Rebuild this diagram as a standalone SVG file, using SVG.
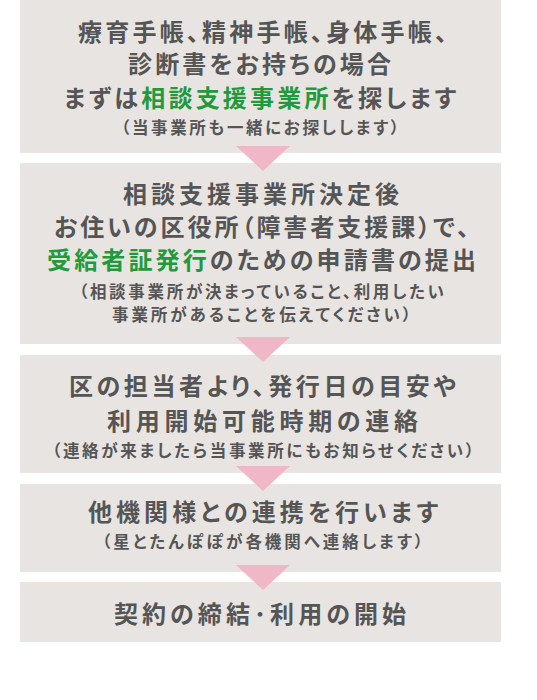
<svg xmlns="http://www.w3.org/2000/svg" width="537" height="700" viewBox="0 0 537 700">
<style>
.box{fill:#e8e4e1}
.arr{fill:#efb7c8}
text{font-family:"Noto Sans CJK JP","Noto Sans",sans-serif;font-weight:700;fill:#555555;text-anchor:middle;font-feature-settings:"palt"}
.m{font-size:24px}
.s{font-size:16.5px}
.g{fill:#1f9a3c}
</style>
<rect width="537" height="700" fill="#ffffff"/>
<g id="step1">
<rect class="box" x="20" y="0" width="481" height="153"/>
<text class="m" x="262.5" y="40.8" textLength="369" lengthAdjust="spacing">療育手帳、精神手帳、身体手帳、</text>
<text class="m" x="259.5" y="73.1" textLength="263" lengthAdjust="spacing">診断書をお持ちの場合</text>
<text class="m" x="260" y="106.6" textLength="392" lengthAdjust="spacing">まずは<tspan class="g">相談支援事業所</tspan>を探します</text>
<text class="s" x="260" y="134" textLength="278" lengthAdjust="spacing">（当事業所も一緒にお探しします）</text>
</g>
<g id="step2">
<rect class="box" x="20" y="163" width="481" height="181"/>
<text class="m" x="261" y="203" textLength="276" lengthAdjust="spacing">相談支援事業所決定後</text>
<text class="m" x="261.5" y="235.6" textLength="415" lengthAdjust="spacing">お住いの区役所（障害者支援課）で、</text>
<text class="m" x="261.5" y="269" textLength="429" lengthAdjust="spacing"><tspan class="g">受給者証発行</tspan>のための申請書の提出</text>
<text class="s" x="261.5" y="297.6" textLength="365" lengthAdjust="spacing">（相談事業所が決まっていること、利用したい</text>
<text class="s" x="261.5" y="321" textLength="299" lengthAdjust="spacing">事業所があることを伝えてください）</text>
</g>
<g id="step3">
<rect class="box" x="20" y="355" width="481" height="118"/>
<text class="m" x="262.5" y="395" textLength="387" lengthAdjust="spacing">区の担当者より、発行日の目安や</text>
<text class="m" x="262.5" y="430" textLength="311" lengthAdjust="spacing">利用開始可能時期の連絡</text>
<text class="s" x="263" y="457" textLength="422" lengthAdjust="spacing">（連絡が来ましたら当事業所にもお知らせください）</text>
</g>
<g id="step4">
<rect class="box" x="20" y="484" width="481" height="88"/>
<text class="m" x="263" y="521" textLength="350" lengthAdjust="spacing">他機関様との連携を行います</text>
<text class="s" x="262.5" y="547.5" textLength="321" lengthAdjust="spacing">（星とたんぽぽが各機関へ連絡します）</text>
</g>
<g id="step5">
<rect class="box" x="20" y="582" width="481" height="60"/>
<text class="m" x="260" y="623" textLength="292" lengthAdjust="spacing">契約の締結･利用の開始</text>
</g>
<g id="connectors">
<polygon class="arr" points="236,146 290,146 263,171"/>
<polygon class="arr" points="236,337 290,337 263,362"/>
<polygon class="arr" points="236,466 290,466 263,491"/>
<polygon class="arr" points="236,565 290,565 263,590"/>
</g>
</svg>
